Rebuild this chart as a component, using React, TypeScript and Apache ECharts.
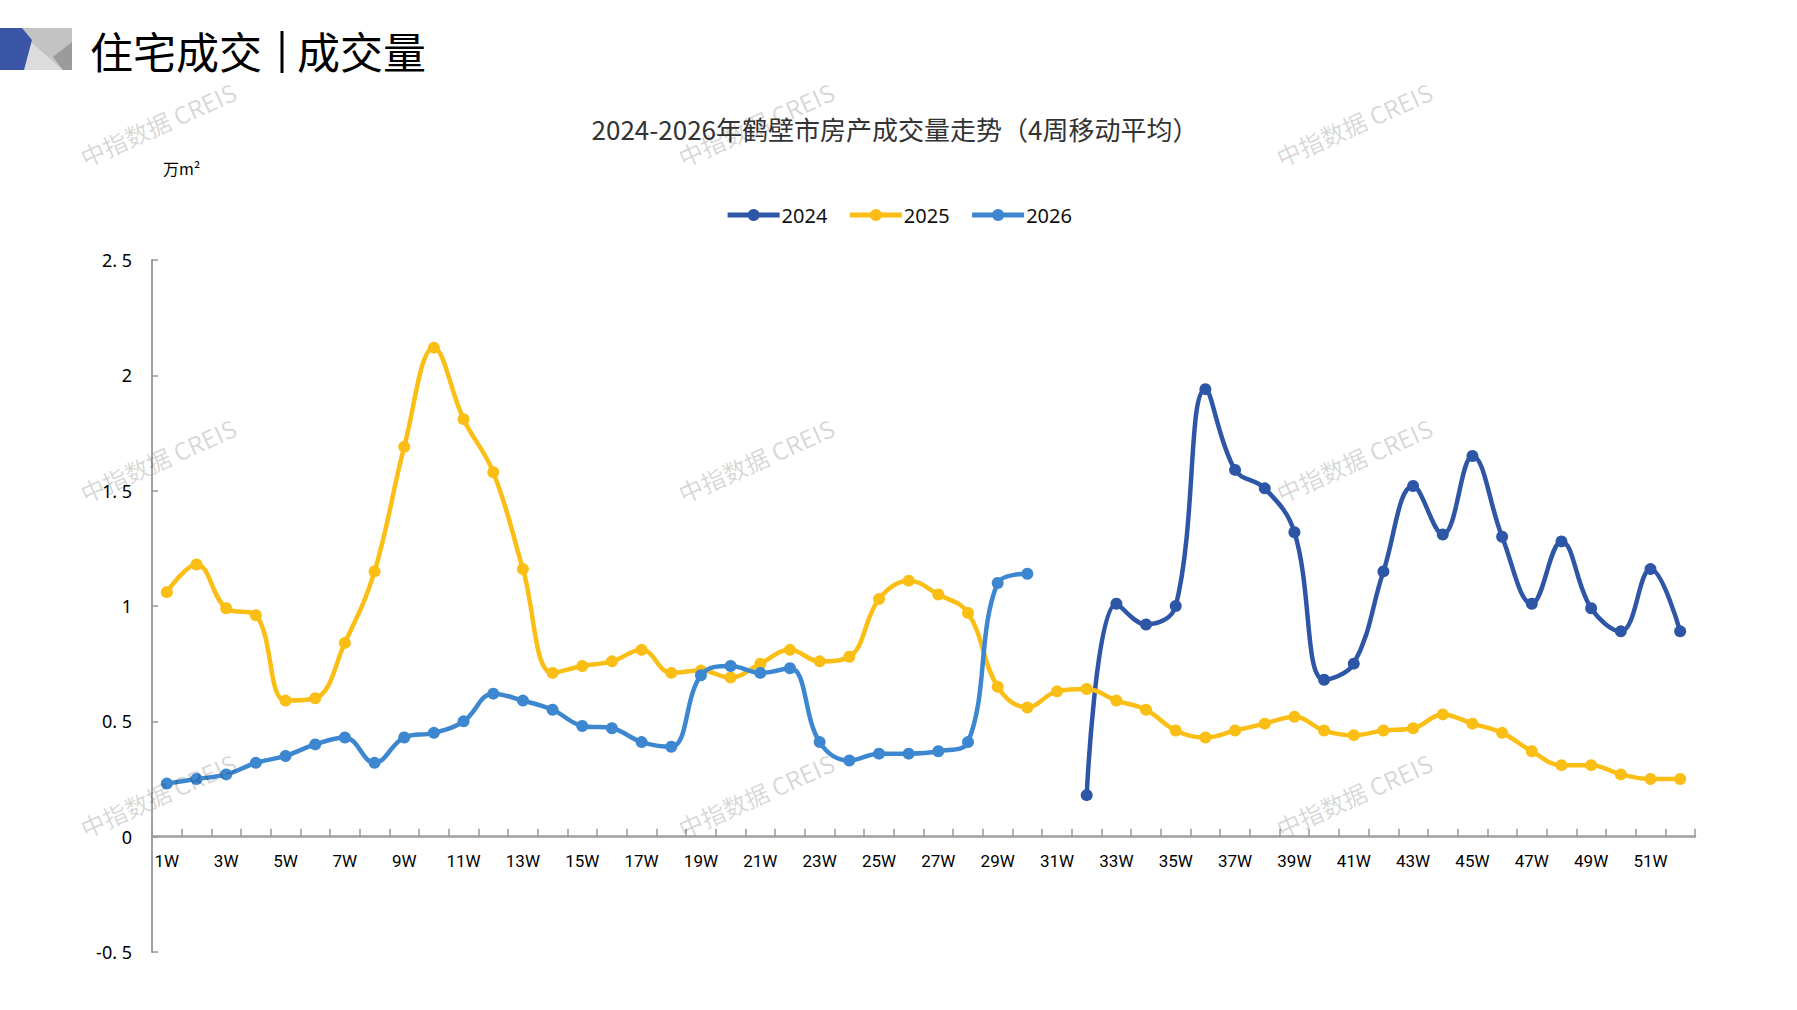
import { useEffect, useRef } from "react";
import * as echarts from "echarts";

const weeks = Array.from({ length: 52 }, (_, i) => `${i + 1}W`);

const yr2024 = [
  null, null, null, null, null, null, null, null, null, null,
  null, null, null, null, null, null, null, null, null, null,
  null, null, null, null, null, null, null, null, null, null,
  null, 0.18, 1.01, 0.92, 1.0, 1.94, 1.59, 1.51, 1.32, 0.68,
  0.75, 1.15, 1.52, 1.31, 1.65, 1.3, 1.01, 1.28, 0.99, 0.89,
  1.16, 0.89,
];

const yr2025 = [
  1.06, 1.18, 0.99, 0.96, 0.59, 0.6, 0.84, 1.15, 1.69, 2.12,
  1.81, 1.58, 1.16, 0.71, 0.74, 0.76, 0.81, 0.71, 0.72, 0.69,
  0.75, 0.81, 0.76, 0.78, 1.03, 1.11, 1.05, 0.97, 0.65, 0.56,
  0.63, 0.64, 0.59, 0.55, 0.46, 0.43, 0.46, 0.49, 0.52, 0.46,
  0.44, 0.46, 0.47, 0.53, 0.49, 0.45, 0.37, 0.31, 0.31, 0.27,
  0.25, 0.25,
];

const yr2026 = [
  0.23, 0.25, 0.27, 0.32, 0.35, 0.4, 0.43, 0.32, 0.43, 0.45,
  0.5, 0.62, 0.59, 0.55, 0.48, 0.47, 0.41, 0.39, 0.7, 0.74,
  0.71, 0.73, 0.41, 0.33, 0.36, 0.36, 0.37, 0.41, 1.1, 1.14,
];

const seriesNames = ["2024", "2025", "2026"];
const seriesColors = ["#2E56A6", "#FABE14", "#3C87D0"];

const yMin = -0.5;
const yMax = 2.5;

const watermarkX = [158, 756, 1354];
const watermarkY = [124, 460, 795];

const GRID_TOP = 260;
const GRID_BOTTOM = 58;
const CHART_H = 1010;

export default function App() {
  const ref = useRef<HTMLDivElement | null>(null);

  useEffect(() => {
    document.body.style.margin = "0";
    if (!ref.current) return;
    const chart = echarts.init(ref.current, null, { renderer: "svg" });

    const watermarks: any[] = [];
    watermarkY.forEach((y) =>
      watermarkX.forEach((x) =>
        watermarks.push({
          type: "text",
          x,
          y,
          rotation: (24 * Math.PI) / 180,
          z: 100,
          silent: true,
          style: {
            text: "中指数据 CREIS",
            fill: "rgba(0,0,0,0.17)",
            font: '24px "Noto Sans CJK SC", sans-serif',
            align: "center",
            verticalAlign: "middle",
          },
        })
      )
    );

    // move the category axis up to the zero line (labels and ticks too)
    const gridH = CHART_H - GRID_TOP - GRID_BOTTOM;
    const zeroOffset = -(gridH * (0 - yMin)) / (yMax - yMin);

    const data = [yr2024, yr2025, yr2026];

    chart.setOption({
      animation: false,
      backgroundColor: "#fff",
      title: {
        text: "2024-2026年鹤壁市房产成交量走势（4周移动平均）",
        left: 890,
        top: 110,
        textAlign: "center",
        textStyle: {
          fontFamily: '"Noto Sans CJK SC", sans-serif',
          fontSize: 26,
          fontWeight: "normal",
          color: "#333",
        },
      },
      legend: {
        data: seriesNames,
        left: "center",
        top: 200,
        itemWidth: 52,
        itemHeight: 15,
        itemGap: 20,
        lineStyle: { width: 5 },
        textStyle: {
          fontFamily: '"Noto Sans", sans-serif',
          fontSize: 20,
          color: "#111",
          padding: [0, 0, 0, -3],
        },
      },
      grid: { left: 152, right: 102, top: GRID_TOP, bottom: GRID_BOTTOM },
      xAxis: {
        type: "category",
        data: weeks,
        boundaryGap: true,
        position: "bottom",
        offset: zeroOffset,
        axisLine: { onZero: false, lineStyle: { color: "#a0a0a0", width: 2.5 } },
        axisTick: {
          show: true,
          inside: true,
          interval: 0,
          length: 8,
          lineStyle: { color: "#999", width: 1.5 },
        },
        axisLabel: {
          interval: 1,
          margin: 16,
          fontFamily: "Roboto, sans-serif",
          fontSize: 17,
          color: "#000",
        },
        splitLine: { show: false },
      },
      yAxis: {
        type: "value",
        min: yMin,
        max: yMax,
        interval: 0.5,
        axisLine: { show: true, lineStyle: { color: "#a0a0a0", width: 2 } },
        axisTick: { show: true, inside: true, length: 6, lineStyle: { color: "#999", width: 1.5 } },
        axisLabel: {
          margin: 20,
          fontFamily: '"Noto Sans", sans-serif',
          fontSize: 18,
          color: "#000",
          formatter: (v: number) => String(v).replace(".", ". "),
        },
        splitLine: { show: false },
      },
      graphic: [
        { type: "rect", shape: { x: 22, y: 28, width: 50, height: 42 }, style: { fill: "#c3c3c3" } },
        { type: "polygon", shape: { points: [[31, 42], [63, 70], [22, 70]] }, style: { fill: "#dcdcdc" } },
        { type: "polygon", shape: { points: [[53, 57], [72, 42], [72, 70], [63, 70]] }, style: { fill: "#9b9b9b" } },
        { type: "polygon", shape: { points: [[0, 28], [22, 28], [32, 40], [24, 70], [0, 70]] }, style: { fill: "#3A55A5" } },
        {
          type: "text",
          left: 90,
          top: 28,
          style: {
            text: "住宅成交",
            font: '43px "Noto Sans CJK SC", sans-serif',
            fill: "#000",
          },
        },
        {
          type: "line",
          shape: { x1: 282, y1: 31, x2: 282, y2: 73 },
          style: { stroke: "#000", lineWidth: 3 },
        },
        {
          type: "text",
          left: 297,
          top: 28,
          style: {
            text: "成交量",
            font: '43px "Noto Sans CJK SC", sans-serif',
            fill: "#000",
          },
        },
        {
          type: "text",
          left: 163,
          top: 160,
          style: {
            text: "万m²",
            font: '16px "Noto Sans CJK SC", sans-serif',
            fill: "#000",
          },
        },
        ...watermarks,
      ],
      series: seriesNames.map((name, i) => ({
        name,
        type: "line",
        data: data[i],
        smooth: 0.4,
        symbol: "circle",
        symbolSize: 12,
        connectNulls: false,
        lineStyle: { width: 4.5, color: seriesColors[i] },
        itemStyle: { color: seriesColors[i] },
        z: 2 + i,
      })),
    });

    return () => chart.dispose();
  }, []);

  return <div ref={ref} style={{ width: 1797, height: 1010 }} />;
}
